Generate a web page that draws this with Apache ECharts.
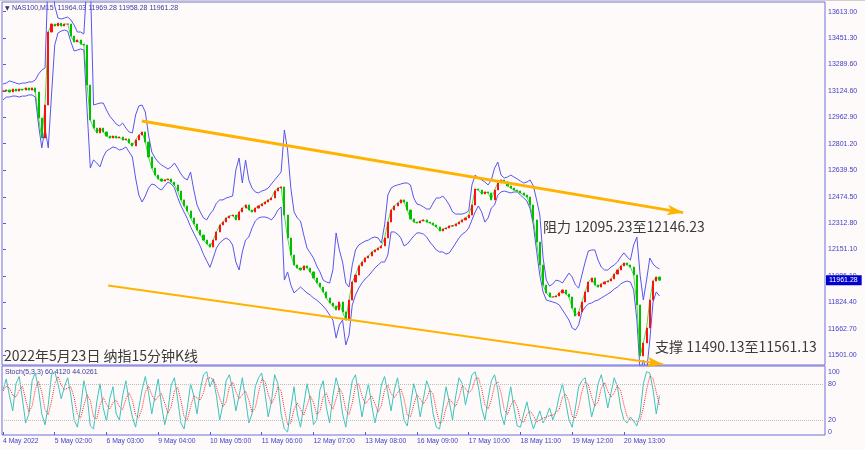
<!DOCTYPE html>
<html><head><meta charset="utf-8">
<script src="https://cdn.jsdelivr.net/npm/echarts@6/dist/echarts.min.js"></script>
<style>html,body{margin:0;padding:0;background:#fffafa}#c{width:865px;height:450px}</style>
</head><body><div id="c"></div>
<script>
// ---------- data ----------
const timeLabels = ['4 May 2022','5 May 02:00','6 May 03:00','9 May 04:00','10 May 05:00','11 May 06:00','12 May 07:00','13 May 08:00','16 May 09:00','17 May 10:00','18 May 11:00','19 May 12:00','20 May 13:00'];
const timeTickIdx = [0,16,32,48,64,80,96,112,128,144,160,176,192];
const priceTicks = [13613.00,13451.30,13289.60,13124.60,12962.90,12801.20,12639.50,12474.50,12312.80,12151.10,11986.10,11824.40,11662.70,11501.00];
const stochTicks = [0,20,80,100];
const stochLevels = [80,20];
const symbolName = 'NAS100,M15';
const headerOHLC = [11964.03,11969.28,11958.28,11961.28];
const stochParams = '5,3,3';
const resistance = [12095.23,12146.23];
const support = [11490.13,11561.13];
const trendUpper = [[42.9,12941],[210.3,12377]];
const trendLower = [[32.5,11929],[204.1,11444]];
const chartTitle = '2022年5月23日 纳指15分钟K线';

const close = [13125,13131,13119,13137,13125,13137,13131,13144,13131,13144,
13119,12959,12836,13039,13488,13537,13525,13543,13525,13537,
13537,13463,13427,13439,13414,13408,13162,12947,12897,12867,
12897,12873,12848,12836,12848,12836,12842,12824,12830,12805,
12787,12824,12854,12873,12811,12719,12651,12608,12584,12571,
12578,12584,12565,12547,12510,12455,12418,12387,12344,12307,
12270,12239,12208,12184,12165,12208,12258,12301,12319,12344,
12356,12362,12332,12381,12405,12424,12393,12381,12405,12418,
12430,12442,12455,12467,12510,12528,12535,12362,12221,12116,
12055,12036,12024,12049,12036,12012,11975,11944,11919,11889,
11852,11821,11802,11778,11827,11766,11716,11839,11950,11993,
12049,12073,12098,12110,12135,12147,12159,12172,12221,12319,
12393,12418,12436,12455,12442,12393,12338,12319,12313,12325,
12332,12319,12313,12301,12289,12264,12276,12282,12295,12295,
12307,12319,12332,12344,12362,12424,12522,12516,12492,12504,
12498,12455,12516,12559,12578,12565,12541,12528,12516,12510,
12498,12485,12473,12424,12332,12196,12055,11932,11883,11858,
11858,11864,11883,11901,11876,11858,11790,11741,11766,11827,
11889,11950,11975,11932,11919,11938,11950,11956,11969,11999,
12024,12049,12067,12055,12042,11993,11809,11495,11575,11667,
11839,11956,11981,11961.28];

const upper = [13168,13174,13187,13181,13174,13168,13174,13174,13181,13181,
13193,13230,13254,13267,13870,13870,13648,13574,13568,13574,
13580,13562,13531,13488,13488,13476,13808,13808,13039,13045,
13051,13051,13008,12971,12947,12922,12910,12928,12897,12873,
12867,12978,13033,13039,12996,12854,12750,12713,12688,12670,
12658,12645,12658,12682,12651,12615,12590,12578,12627,12516,
12424,12381,12344,12332,12368,12393,12436,12455,12455,12467,
12473,12479,12639,12713,12559,12701,12578,12528,12504,12498,
12510,12516,12528,12553,12578,12602,12627,12885,12762,12528,
12381,12344,12325,12239,12159,12129,12098,12049,12012,11962,
11950,11944,12024,12252,12147,12073,11944,11919,12055,12147,
12178,12190,12202,12208,12221,12227,12221,12190,12301,12485,
12528,12541,12547,12553,12559,12559,12547,12467,12430,12424,
12412,12399,12399,12436,12467,12467,12479,12455,12424,12381,
12368,12368,12368,12375,12387,12547,12608,12590,12578,12565,
12547,12578,12651,12688,12608,12590,12596,12608,12596,12584,
12571,12559,12565,12578,12541,12455,12362,12098,11962,11925,
11938,11962,11956,11944,11975,12005,11981,11932,11913,11993,
12073,12141,12147,12147,12085,12042,12024,12024,12042,12055,
12073,12104,12129,12104,12085,12178,12227,11993,11839,11962,
12098,12061,12042,12030];

const lower = [13070,13088,13088,13094,13094,13088,13094,13094,13101,13101,
13088,12916,12775,12897,12775,13101,13408,13482,13494,13500,
13494,13427,13371,13377,13384,13377,13008,12651,12701,12682,
12658,12719,12756,12768,12781,12775,12762,12768,12781,12750,
12719,12590,12485,12442,12479,12528,12553,12547,12528,12516,
12541,12565,12553,12530,12470,12420,12380,12340,12290,12250,
12210,12170,12120,12080,12040,12098,12159,12190,12208,12221,
12208,12178,12073,12024,12135,12208,12227,12282,12325,12344,
12350,12350,12344,12332,12356,12393,12412,11962,12012,11932,
11883,11901,11919,11901,11883,11870,11852,11839,11821,11802,
11778,11747,11716,11606,11686,11716,11563,11624,11809,11870,
11913,11944,11969,11987,12012,12036,12055,12073,12073,12116,
12258,12258,12245,12221,12172,12184,12208,12233,12252,12252,
12245,12227,12196,12172,12147,12135,12135,12122,12129,12159,
12190,12221,12245,12258,12282,12332,12381,12418,12381,12319,
12344,12405,12424,12485,12504,12510,12504,12498,12504,12504,
12485,12467,12448,12400,12300,12140,11990,11889,11839,11833,
11827,11821,11809,11778,11747,11716,11667,11655,11686,11766,
11796,11815,11821,11833,11839,11852,11864,11876,11889,11907,
11919,11938,11950,11956,11950,11901,11716,11396,11470,11396,
11593,11827,11889,11864];

const stochK = [70,88,60,35,80,92,55,15,30,85,
98,70,30,12,45,95,100,80,55,75,
90,60,20,8,40,85,60,10,5,50,
80,40,18,55,75,30,20,60,85,50,
25,8,40,70,92,65,30,60,88,45,
12,35,78,90,55,15,5,40,80,60,
30,70,95,100,75,88,60,20,45,85,
95,70,35,60,90,55,15,30,75,90,
98,65,25,50,95,80,30,5,0,40,
75,30,8,45,80,55,12,20,70,85,
40,15,60,90,70,30,8,50,85,95,
60,25,55,80,45,15,40,78,92,65,
35,70,90,55,20,10,45,80,60,25,
55,85,70,30,8,5,40,75,50,20,
60,90,80,45,70,95,100,75,40,20,
55,85,95,70,30,12,45,75,40,10,
8,30,50,25,5,20,35,15,25,40,
20,35,60,80,50,20,8,40,75,85,
90,60,25,45,80,95,70,40,65,90,
75,40,20,15,25,18,10,30,80,100,
98,70,30,60.4120];

const stochD = [68,76,73,61,58,69,76,54,33,43,
71,84,66,37,29,51,80,92,78,70,
73,75,57,29,23,44,62,52,25,22,
45,57,46,38,49,53,42,37,55,65,
53,28,24,39,67,76,62,52,59,64,
48,31,42,68,74,53,25,20,42,60,
57,53,65,88,90,88,74,56,42,50,
75,83,67,55,62,68,53,33,40,65,
88,84,63,47,57,75,68,38,12,15,
38,48,38,28,44,60,49,29,34,58,
65,47,38,55,73,63,36,29,48,77,
80,60,47,53,60,47,33,44,70,78,
64,57,65,72,55,28,25,45,62,55,
47,55,70,62,36,14,18,40,55,48,
43,57,77,72,65,70,88,90,72,45,
38,53,78,83,65,37,29,44,53,42,
19,16,29,35,27,17,20,23,25,27,
28,32,38,58,63,50,26,23,41,67,
83,78,58,43,50,73,82,68,58,65,
77,68,45,25,20,19,18,19,40,70,
93,89,66,44.0261];

// ---------- build ----------
const pairs = a => a.map((v, i) => [i, v]);
const candles = close.map((c, i) => {
  const o = i ? close[i - 1] : c;
  return [i, o, c, Math.min(o, c), Math.max(o, c)];
});
const lastPrice = close[close.length - 1];
const X_MIN = -0.31, X_MAX = 254.17;
const AXIS_BLUE = '#3f3fc4';
const LABEL_FONT = '"Liberation Sans", Arial, sans-serif';
const CJK_FONT = '"Noto Sans CJK SC", sans-serif';

const chart = echarts.init(document.getElementById('c'), null, {renderer: 'canvas'});
chart.setOption({
  animation: false,
  backgroundColor: '#fffafa',
  grid: [
    {left: 2, top: 2, width: 823, height: 363, show: true, borderColor: '#6e6edc', borderWidth: 1, backgroundColor: 'transparent', outerBoundsMode: 'none'},
    {left: 2, top: 366, width: 823, height: 69, show: true, borderColor: '#6e6edc', borderWidth: 1, backgroundColor: 'transparent', outerBoundsMode: 'none'}
  ],
  xAxis: [
    {type: 'value', gridIndex: 0, min: X_MIN, max: X_MAX, show: false, splitLine: {show: false}},
    {type: 'value', gridIndex: 1, min: X_MIN, max: X_MAX, position: 'bottom',
      axisLine: {show: false}, splitLine: {show: false},
      axisTick: {show: true, customValues: timeTickIdx, length: 3, lineStyle: {color: '#5a5ad0'}},
      axisLabel: {customValues: timeTickIdx, align: 'left', margin: 3, fontSize: 6.8, fontFamily: LABEL_FONT, color: AXIS_BLUE,
        formatter: v => timeLabels[timeTickIdx.indexOf(v)] || ''}}
  ],
  yAxis: [
    {type: 'value', gridIndex: 0, position: 'right', min: 11439.5, max: 13672.7,
      axisLine: {show: false}, splitLine: {show: false},
      axisTick: {show: true, customValues: priceTicks, length: 3, lineStyle: {color: '#5a5ad0'}},
      axisLabel: {customValues: priceTicks, margin: 3, fontSize: 7, fontFamily: LABEL_FONT, color: AXIS_BLUE, formatter: v => v.toFixed(2)}},
    {type: 'value', gridIndex: 1, position: 'right', min: -5, max: 109.5,
      axisLine: {show: false}, splitLine: {show: false}, axisTick: {show: false},
      axisLabel: {customValues: stochTicks, margin: 3, fontSize: 7, fontFamily: LABEL_FONT, color: AXIS_BLUE, formatter: v => String(v)}}
  ],
  series: [
    {type: 'line', name: 'upper', xAxisIndex: 0, yAxisIndex: 0, data: pairs(upper), showSymbol: false, symbol: 'none',
      lineStyle: {color: '#5656ee', width: 1}, silent: true, clip: true, z: 2},
    {type: 'line', name: 'lower', xAxisIndex: 0, yAxisIndex: 0, data: pairs(lower), showSymbol: false, symbol: 'none',
      lineStyle: {color: '#5656ee', width: 1}, silent: true, clip: true, z: 2},
    {type: 'line', name: 'ma', xAxisIndex: 0, yAxisIndex: 0, data: pairs(close), showSymbol: false, symbol: 'none',
      lineStyle: {color: '#00cc00', width: 1, opacity: 0.7}, silent: true, z: 3,
      markLine: {silent: true, symbol: 'none', animation: false,
        lineStyle: {color: 'rgba(0,0,0,0)', width: 0, type: 'solid'},
        label: {show: true, position: 'end', distance: 1, formatter: () => lastPrice.toFixed(2), color: '#ffffff',
          backgroundColor: '#0000cc', padding: [1, 4, 1, 3], fontSize: 7, fontFamily: LABEL_FONT, lineHeight: 8},
        data: [{yAxis: lastPrice}]}},
    {type: 'candlestick', name: 'price', xAxisIndex: 0, yAxisIndex: 0, data: candles,
      encode: {x: 0, y: [1, 2, 3, 4]}, barWidth: 1.6, silent: true, z: 4,
      itemStyle: {color: '#ff1010', color0: '#00c000', borderColor: '#ff1010', borderColor0: '#00c000', borderWidth: 1}},
    {type: 'line', name: 'trend', xAxisIndex: 0, yAxisIndex: 0, data: [], clip: false, silent: true, z: 6,
      markLine: {silent: true, animation: false, symbol: ['none', 'arrow'], label: {show: false},
        data: [
          [{coord: trendUpper[0], lineStyle: {color: '#ffb300', width: 3, type: 'solid'}, symbolSize: 9}, {coord: trendUpper[1]}],
          [{coord: trendLower[0], lineStyle: {color: '#ffb300', width: 2, type: 'solid'}, symbolSize: 8}, {coord: trendLower[1]}]
        ]}},
    {type: 'line', name: 'stochK', xAxisIndex: 1, yAxisIndex: 1, data: pairs(stochK), showSymbol: false, symbol: 'none',
      lineStyle: {color: '#3cc4bc', width: 1}, silent: true, z: 3,
      markLine: {silent: true, symbol: 'none', animation: false, label: {show: false},
        lineStyle: {color: '#bdbdbd', type: 'dotted', width: 1},
        data: stochLevels.map(v => ({yAxis: v}))}},
    {type: 'line', name: 'stochD', xAxisIndex: 1, yAxisIndex: 1, data: pairs(stochD), showSymbol: false, symbol: 'none',
      lineStyle: {color: '#ff2a2a', width: 1, type: 'dotted'}, silent: true, z: 4}
  ],
  graphic: [
    {type: 'rect', shape: {x: 0, y: 0, width: 865, height: 1}, style: {fill: '#cfcfcf'}, silent: true},
    {type: 'text', x: 5, y: 8, silent: true, style: {text: '▼', font: '6px "DejaVu Sans"', fill: '#30306a', verticalAlign: 'middle'}},
    {type: 'text', x: 12, y: 8, silent: true, style: {text: symbolName + '  ' + headerOHLC.map(v => v.toFixed(2)).join(' '),
      font: '7px ' + LABEL_FONT, fill: '#3a3a9e', verticalAlign: 'middle'}},
    {type: 'text', x: 5, y: 372, silent: true, style: {text: 'Stoch(' + stochParams + ') ' + stochK[stochK.length - 1].toFixed(4) + ' ' + stochD[stochD.length - 1].toFixed(4),
      font: '7px ' + LABEL_FONT, fill: '#3a3a9e', verticalAlign: 'middle'}},
    {type: 'text', x: 4, y: 356, silent: true, style: {text: chartTitle, font: '14px ' + CJK_FONT, fill: '#3a3a3a', verticalAlign: 'middle'}},
    {type: 'text', x: 543, y: 227, silent: true, style: {text: '阻力 ' + resistance[0].toFixed(2) + '至' + resistance[1].toFixed(2),
      font: '14px ' + CJK_FONT, fill: '#3a3a3a', verticalAlign: 'middle'}},
    {type: 'text', x: 655, y: 347, silent: true, style: {text: '支撑 ' + support[0].toFixed(2) + '至' + support[1].toFixed(2),
      font: '14px ' + CJK_FONT, fill: '#3a3a3a', verticalAlign: 'middle'}}
  ]
});
</script>
</body></html>
